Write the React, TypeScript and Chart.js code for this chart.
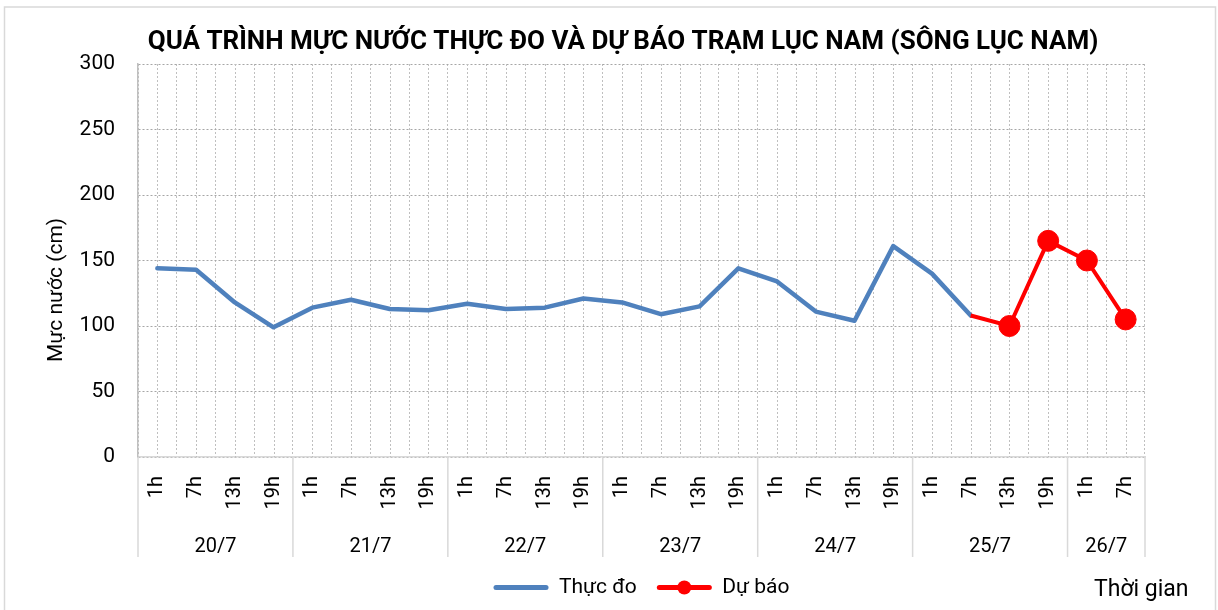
import React, { useEffect, useRef } from "react";
import { Chart, registerables } from "chart.js";

Chart.register(...registerables);

// ---------- Data ----------
const chartTitle = "QUÁ TRÌNH MỰC NƯỚC THỰC ĐO VÀ DỰ BÁO TRẠM LỤC NAM (SÔNG LỤC NAM)";
const yAxisTitle = "Mực nước (cm)";
const xAxisTitle = "Thời gian";
const seriesNames = ["Thực đo", "Dự báo"];

const hourLabels = [
  "1h", "7h", "13h", "19h",
  "1h", "7h", "13h", "19h",
  "1h", "7h", "13h", "19h",
  "1h", "7h", "13h", "19h",
  "1h", "7h", "13h", "19h",
  "1h", "7h", "13h", "19h",
  "1h", "7h",
];
const dayLabels = ["20/7", "21/7", "22/7", "23/7", "24/7", "25/7", "26/7"];
const dayCounts = [4, 4, 4, 4, 4, 4, 2];

const observed = [
  144, 143, 118, 99,
  114, 120, 113, 112,
  117, 113, 114, 121,
  118, 109, 115, 144,
  134, 111, 104, 161,
  140, 108, null, null,
  null, null,
];
const forecast = [
  null, null, null, null,
  null, null, null, null,
  null, null, null, null,
  null, null, null, null,
  null, null, null, null,
  null, 108, 100, 165,
  150, 105,
];
const yTicks = [0, 50, 100, 150, 200, 250, 300];

// ---------- Derived ----------
const dayStarts: number[] = [];
{
  let s = 0;
  for (const c of dayCounts) {
    dayStarts.push(s);
    s += c;
  }
}
const dayCenters = dayStarts.map((s, i) => s + (dayCounts[i] - 1) / 2);
const dayBounds = [...dayStarts.map((s) => s - 0.5), hourLabels.length - 0.5];
const firstForecastIndex = forecast.findIndex((v) => v !== null);

const FONT = "Roboto, 'Noto Sans', sans-serif";
const BLUE = "#4F81BD";
const RED = "#FF0000";

const decorPlugin = {
  id: "decor",
  beforeDraw(chart: any) {
    const ctx = chart.ctx;
    ctx.save();
    ctx.fillStyle = "#ffffff";
    ctx.fillRect(0, 0, chart.width, chart.height);
    ctx.strokeStyle = "#d9d9d9";
    ctx.lineWidth = 1.5;
    ctx.strokeRect(4.5, 7, 1211, 640);
    ctx.restore();
  },
  beforeDatasetsDraw(chart: any) {
    const ctx = chart.ctx;
    const x = chart.scales.x;
    const { top, bottom } = chart.chartArea;
    ctx.save();
    ctx.strokeStyle = "#bfbfbf";
    ctx.lineWidth = 1;
    ctx.setLineDash([2, 2]);
    for (let i = 0; i < hourLabels.length; i++) {
      const px = Math.round(x.getPixelForValue(i)) + 0.5;
      ctx.beginPath();
      ctx.moveTo(px, top);
      ctx.lineTo(px, bottom);
      ctx.stroke();
    }
    ctx.restore();
  },
  afterDraw(chart: any) {
    const ctx = chart.ctx;
    const x2 = chart.scales.x2;
    const { bottom } = chart.chartArea;
    ctx.save();
    // group separators below the axis
    ctx.strokeStyle = "#d9d9d9";
    ctx.lineWidth = 1.5;
    for (const b of dayBounds) {
      const px = x2.getPixelForValue(b);
      ctx.beginPath();
      ctx.moveTo(px, bottom);
      ctx.lineTo(px, x2.bottom);
      ctx.stroke();
    }
    // y axis title
    ctx.fillStyle = "#000";
    ctx.font = `21px ${FONT}`;
    ctx.textAlign = "center";
    ctx.textBaseline = "middle";
    ctx.translate(57, 290);
    ctx.rotate(-Math.PI / 2);
    ctx.fillText(yAxisTitle, 0, 0);
    ctx.setTransform(1, 0, 0, 1, 0, 0);
    // x axis title
    ctx.font = `23px ${FONT}`;
    ctx.textAlign = "left";
    ctx.fillText(xAxisTitle, 1094, 590);
    // legend marker for forecast
    const legend = chart.legend;
    if (legend && legend.legendHitBoxes && legend.legendHitBoxes[1]) {
      const hb = legend.legendHitBoxes[1];
      const bw = legend.options.labels.boxWidth;
      const fs = legend.options.labels.font.size;
      ctx.fillStyle = RED;
      ctx.beginPath();
      ctx.arc(hb.left + bw / 2, hb.top + fs / 2, 7, 0, Math.PI * 2);
      ctx.fill();
    }
    ctx.restore();
  },
};

export default function App() {
  const canvasRef = useRef<HTMLCanvasElement | null>(null);

  useEffect(() => {
    if (!canvasRef.current) return;
    const chart = new Chart(canvasRef.current, {
      type: "line",
      data: {
        labels: hourLabels,
        datasets: [
          {
            label: seriesNames[0],
            data: observed,
            borderColor: BLUE,
            backgroundColor: BLUE,
            borderWidth: 4.5,
            pointRadius: 0,
            pointHoverRadius: 0,
            tension: 0,
            borderCapStyle: "round",
            borderJoinStyle: "round",
            spanGaps: false,
            order: 2,
          },
          {
            label: seriesNames[1],
            data: forecast,
            borderColor: RED,
            backgroundColor: RED,
            borderWidth: 4,
            pointRadius: (c: any) => (c.dataIndex === firstForecastIndex ? 0 : 10.5),
            pointBackgroundColor: RED,
            pointBorderColor: RED,
            pointBorderWidth: 1,
            tension: 0,
            spanGaps: false,
            order: 1,
          },
        ],
      },
      options: {
        animation: false,
        responsive: false,
        events: [],
        layout: { padding: { left: 28, right: 0, top: 0, bottom: 2 } },
        plugins: {
          title: {
            display: true,
            text: chartTitle,
            color: "#000",
            font: { family: FONT, size: 26, weight: "bold" },
            padding: { top: 27, bottom: 5.8 },
          },
          legend: {
            display: true,
            position: "bottom",
            fullSize: false,
            labels: {
              color: "#000",
              font: { family: FONT, size: 21 },
              boxWidth: 55,
              boxHeight: 5,
              padding: 20,
              sort: (a: any, b: any) => a.datasetIndex - b.datasetIndex,
              generateLabels: (ch: any) =>
                Chart.defaults.plugins.legend.labels.generateLabels(ch).map((l: any) => ({
                  ...l,
                  fillStyle: l.strokeStyle,
                  lineWidth: 0,
                  borderRadius: 2.5,
                })),
            },
          },
          tooltip: { enabled: false },
        },
        scales: {
          x: {
            type: "category",
            position: "bottom",
            weight: 0,
            offset: true,
            grid: {
              display: true,
              offset: true,
              color: "#bfbfbf",
              lineWidth: 1,
              drawTicks: false,
            },
            border: { display: true, color: "#d9d9d9", width: 1.5, dash: [2, 2] },
            ticks: {
              autoSkip: false,
              minRotation: 90,
              maxRotation: 90,
              padding: 19,
              color: "#000",
              font: { family: FONT, size: 20 },
            },
            afterFit: (s: any) => {
              s.height = 57;
            },
          },
          x2: {
            type: "linear",
            position: "bottom",
            weight: 1,
            min: -0.5,
            max: hourLabels.length - 0.5,
            grid: { display: false, drawTicks: false },
            border: { display: false },
            ticks: {
              color: "#000",
              padding: 21,
              font: { family: FONT, size: 20 },
              autoSkip: false,
              maxRotation: 0,
              minRotation: 0,
              callback: (_v: any, i: number) => dayLabels[i],
            },
            afterBuildTicks: (s: any) => {
              s.ticks = dayCenters.map((v) => ({ value: v }));
            },
            afterFit: (s: any) => {
              s.height = 43;
            },
          },
          y: {
            type: "linear",
            position: "left",
            min: 0,
            max: 300,
            grid: {
              color: "#a6a6a6",
              lineWidth: 1,
              drawTicks: false,
            },
            border: { display: true, color: "#bfbfbf", width: 1.5, dash: [2, 2] },
            ticks: {
              padding: 23,
              color: "#000",
              font: { family: FONT, size: 21 },
            },
            afterBuildTicks: (s: any) => {
              s.ticks = yTicks.map((v) => ({ value: v }));
            },
            afterFit: (s: any) => {
              s.width = 110;
            },
          },
          yR: {
            type: "linear",
            position: "right",
            display: true,
            grid: { display: false, drawTicks: false },
            border: { display: false },
            ticks: { display: false },
            afterFit: (s: any) => {
              s.width = 73;
            },
          },
        },
      },
      plugins: [decorPlugin],
    } as any);

    return () => chart.destroy();
  }, []);

  return (
    <div style={{ position: "absolute", left: 0, top: 0, width: 1218, height: 610 }}>
      <canvas ref={canvasRef} width={1218} height={610} style={{ display: "block" }} />
    </div>
  );
}
